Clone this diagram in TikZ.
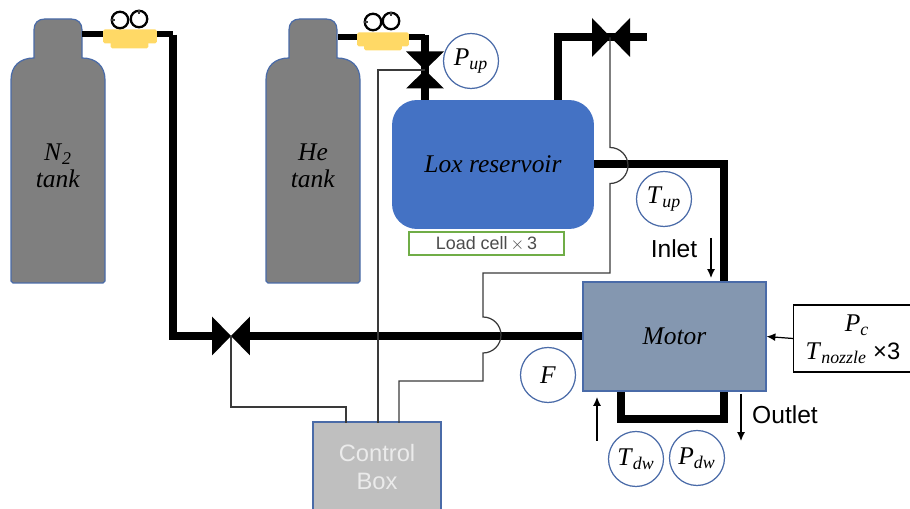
\documentclass[tikz,border=0pt]{standalone}
\usepackage{fontspec}
\setmainfont{Liberation Sans}
\newfontfamily\labelfont{Liberation Serif}
\usepackage{xcolor}
\usetikzlibrary{positioning, arrows.meta}
\definecolor{tankgray}{HTML}{7F7F7F}
\definecolor{edgeblue}{HTML}{4A6BA8}
\definecolor{regyellow}{HTML}{FFD966}
\definecolor{resblue}{HTML}{4472C4}
\definecolor{motorblue}{HTML}{8497B0}
\definecolor{boxgray}{HTML}{BFBFBF}
\definecolor{cellgreen}{HTML}{70AD47}
\definecolor{wiregray}{HTML}{3A3A3A}
\newcommand{\symb}[2]{\textit{#1}\textsubscript{\textit{#2}}}

\begin{document}
\begin{tikzpicture}[x=0.02cm, y=-0.02cm,
		pipe/.style={draw=black, line width=0.16cm}, % Main feed lines
		gaspipe/.style={draw=black, line width=0.13cm}, % Lines at the tanks
		wire/.style={draw=wiregray, line width=0.7pt}, % Control lines
		flow/.style={draw=black, line width=0.7pt, -{Latex[length=5pt,width=4.5pt]}},
		tankbody/.style={draw=edgeblue, line width=0.7pt, fill=tankgray},
		mathlabel/.style={font=\labelfont\fontsize{14.5}{15.5}\selectfont},
		tanklabel/.style={align=center, mathlabel},
		regtop/.style={fill=regyellow, inner sep=0pt, rounded corners=1pt},
		gauge/.style={circle, draw=black, line width=1.3pt, fill=white, inner sep=0pt, minimum size=0.33cm},
		valveh/.style={inner sep=0pt, minimum width=0.76cm, minimum height=0.78cm, path picture={
			\fill[black] (path picture bounding box.north west) -- (path picture bounding box.south west)
			-- (path picture bounding box.north east) -- (path picture bounding box.south east) -- cycle;}},
		valvev/.style={inner sep=0pt, minimum width=0.76cm, minimum height=0.74cm, path picture={
			\fill[black] (path picture bounding box.north west) -- (path picture bounding box.north east)
			-- (path picture bounding box.south west) -- (path picture bounding box.south east) -- cycle;}},
		sensor/.style={circle, draw=edgeblue, line width=0.7pt, fill=white, inner sep=0pt, minimum size=1.1cm, mathlabel}
		]
		\useasboundingbox (0,0) rectangle (910,509);

		% Tanks
		\foreach \tx in {0,255} {
			\draw[tankbody] (\tx+11,281) -- (\tx+11,80) .. controls (\tx+11,66) and (\tx+20,58) .. (\tx+34,58)
			-- (\tx+34,30) .. controls (\tx+34,23) and (\tx+38,19) .. (\tx+45,19)
			-- (\tx+71,19) .. controls (\tx+78,19) and (\tx+82,23) .. (\tx+82,30)
			-- (\tx+82,58) .. controls (\tx+96,58) and (\tx+105,66) .. (\tx+105,80)
			-- (\tx+105,281) -- (\tx+103,283) -- (\tx+13,283) -- cycle;
		}
		\node[tanklabel] (ntank) at (58,166) {\symb{N}{2}\\\textit{tank}};
		\node[tanklabel] (hetank) at (313,166) {\textit{He}\\\textit{tank}};

		% Junction points of the lines
		\coordinate (nout) at (82,34);
		\coordinate (ncorner) at (173,34);
		\coordinate (ndown) at (173,336);
		\coordinate (heout) at (338,37);
		\coordinate (hecorner) at (425,37);
		\coordinate (resin) at (425,105);
		\coordinate (resup) at (558,105);
		\coordinate (rescorner) at (558,37.5);
		\coordinate (ventend) at (647,37.5);
		\coordinate (resout) at (590,164);
		\coordinate (rescross) at (724,164);
		\coordinate (motorin) at (724,285);
		\coordinate (loopa) at (621,388);
		\coordinate (loopb) at (621,419);
		\coordinate (loopc) at (724,419);
		\coordinate (loopd) at (724,388);

		% Valves
		\node[valveh] (valveL) at (231,336) {};
		\node[valveh] (valveR) at (611,37.5) {};
		\node[valvev] (valveH) at (425,70) {};

		% Thick lines
		\draw[gaspipe] (nout) -- (ncorner);
		\draw[pipe] ([yshift=-0.015cm]ncorner) -- (ndown) -- (valveL) -- (583,336);
		\draw[gaspipe] (heout) -- (hecorner);
		\draw[pipe] ([yshift=0.03cm]hecorner) -- (resin);
		\draw[pipe] (resup) -- (rescorner) -- (ventend);
		\draw[pipe] (resout) -- (rescross) -- (motorin);
		\draw[pipe] (loopa) -- (loopb) -- (loopc) -- (loopd);

		% Main parts
		\node[draw=none, fill=resblue, rounded corners=0.5cm, minimum width=4.04cm, minimum height=2.58cm, inner sep=0pt, mathlabel] (res) at (493,164.5) {\textit{Lox reservoir}};
		\node[draw=cellgreen, line width=0.7pt, fill=white, minimum width=3.1cm, minimum height=0.46cm, inner sep=0pt, text=black!70, font=\fontsize{10.2}{12}\selectfont] (cell) at (486.5,243.5) {Load cell$\,\times\,$3};
		\node[draw=edgeblue, line width=0.7pt, fill=motorblue, minimum width=3.66cm, minimum height=2.18cm, inner sep=0pt, mathlabel] (motor) at (674.5,336.5) {\textit{Motor}};
		\node[draw=edgeblue, line width=0.7pt, fill=boxgray, minimum width=2.56cm, minimum height=1.8cm, inner sep=0pt, align=center, text=white!92!black, font=\fontsize{13.5}{15.5}\selectfont] (box) at (377,467) {Control\\Box};
		\node[draw=black, line width=0.7pt, fill=white, minimum width=2.5cm, minimum height=1.34cm, inner sep=0pt, anchor=west] (nozzle) at (793,338.5) {};
		\node[mathlabel] (pc) at (857,325) {\symb{P}{c}};
		\node[mathlabel] (tnozzle) at (853,353) {\symb{T}{nozzle} {\rmfamily\normalfont\fontsize{13.5}{15}\selectfont ×3}};

		% Regulators and gauges
		\node[regtop, minimum width=0.76cm, minimum height=0.36cm, anchor=north] (regNbase) at (129.5,30) {};
		\node[regtop, minimum width=1.08cm, minimum height=0.28cm, anchor=north] (regN) at (130,29) {};
		\node[regtop, minimum width=0.76cm, minimum height=0.34cm, anchor=north] (regHbase) at (383,33) {};
		\node[regtop, minimum width=1.04cm, minimum height=0.28cm, anchor=north] (regH) at (383,32) {};
		\node[gauge] (gaugeNa) at (120,20) {};
		\node[gauge] (gaugeNb) at (139,19) {};
		\node[gauge] (gaugeHa) at (373,22) {};
		\node[gauge] (gaugeHb) at (391,21) {};
		\draw[wire] (gaugeNa.west) -- ++(4,0);
		\draw[wire] (gaugeNb.north) -- ++(0,4);
		\draw[wire] (gaugeHa.west) -- ++(4,0);
		\draw[wire] (gaugeHb.north) -- ++(0,4);

		% Control lines
		\draw[wire] (231,336) -- (231,407) -- (346,407) -- (346,423);
		\draw[wire] (378,423) -- (378,70) -- (425,70);
		\draw[wire] (399,423) -- (399,381) -- (483,381) -- (483,353) arc[start angle=90, end angle=-90, radius=18] -- (483,273) -- (610,273) -- (610,183.5) arc[start angle=90, end angle=-90, radius=18] -- (610,37.5);

		% Sensors
		\node[sensor] (pup) at (471,61) {\symb{P}{up}};
		\node[sensor] (tup) at (664,199) {\symb{T}{up}};
		\node[sensor] (force) at (548,375) {\textit{F}};
		\node[sensor] (tdw) at (636,459) {\symb{T}{dw}};
		\node[sensor] (pdw) at (697,458) {\symb{P}{dw}};

		% Flow directions
		\coordinate (inlettop) at (711,238);
		\coordinate (inletend) at (711,278);
		\coordinate (outtop) at (741,394);
		\coordinate (outend) at (741,441);
		\coordinate (backlow) at (597,441);
		\coordinate (backend) at (597,397);
		\draw[flow] (inlettop) -- (inletend);
		\draw[flow] (outtop) -- (outend);
		\draw[flow] (backlow) -- (backend);
		\draw[flow] (nozzle.west) -- (motor.east);
		\node[font=\fontsize{14}{16}\selectfont] (inlet) at (674,249) {Inlet};
		\node[font=\fontsize{14}{16}\selectfont] (outlet) at (785,415) {Outlet};
	\end{tikzpicture}
\end{document}
